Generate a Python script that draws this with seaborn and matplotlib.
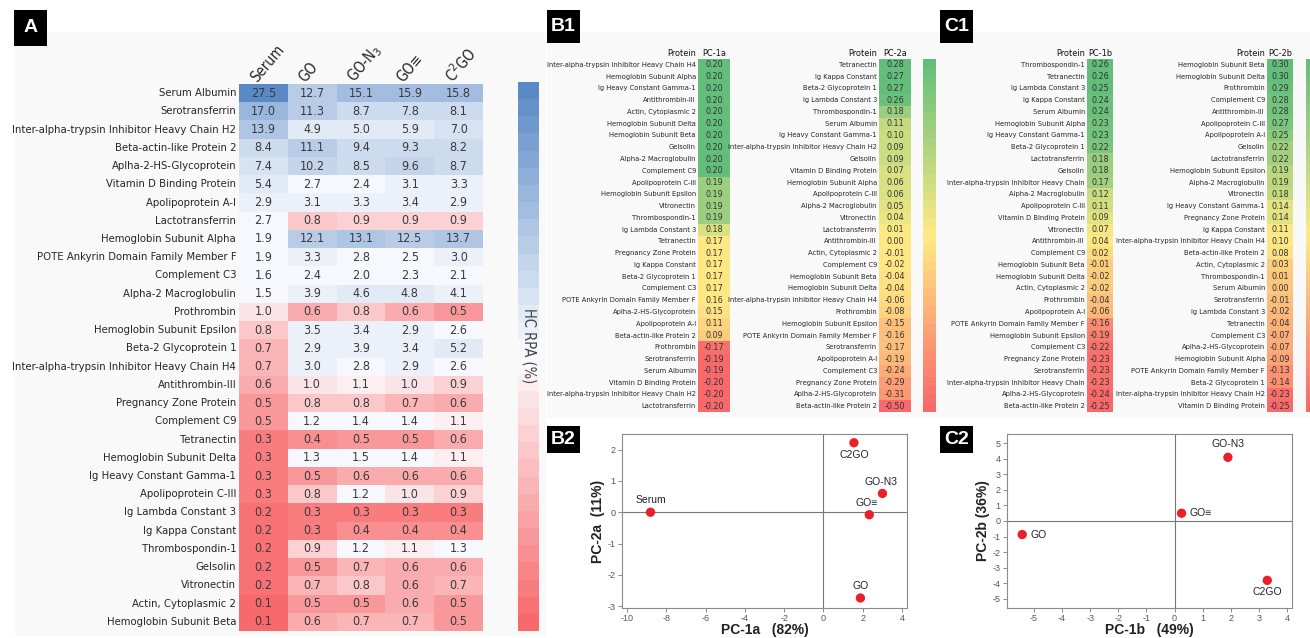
import os
import numpy as np
import pandas as pd
import seaborn as sns
import matplotlib.pyplot as plt
from matplotlib import font_manager
from matplotlib.font_manager import FontProperties
from matplotlib.colors import LinearSegmentedColormap, TwoSlopeNorm
from matplotlib.patches import Rectangle
from matplotlib.transforms import ScaledTranslation

# ---- panel A: HC RPA (%) per protein ----
proteins_a = ["Serum Albumin", "Serotransferrin", "Inter-alpha-trypsin Inhibitor Heavy Chain H2",
              "Beta-actin-like Protein 2", "Aplha-2-HS-Glycoprotein", "Vitamin D Binding Protein",
              "Apolipoprotein A-I", "Lactotransferrin", "Hemoglobin Subunit Alpha",
              "POTE Ankyrin Domain Family Member F", "Complement C3", "Alpha-2 Macroglobulin",
              "Prothrombin", "Hemoglobin Subunit Epsilon", "Beta-2 Glycoprotein 1",
              "Inter-alpha-trypsin Inhibitor Heavy Chain H4", "Antithrombin-III", "Pregnancy Zone Protein",
              "Complement C9", "Tetranectin", "Hemoglobin Subunit Delta", "Ig Heavy Constant Gamma-1",
              "Apolipoprotein C-III", "Ig Lambda Constant 3", "Ig Kappa Constant", "Thrombospondin-1",
              "Gelsolin", "Vitronectin", "Actin, Cytoplasmic 2", "Hemoglobin Subunit Beta"]
serum = [27.5, 17.0, 13.9, 8.4, 7.4, 5.4, 2.9, 2.7, 1.9, 1.9, 1.6, 1.5, 1.0, 0.8, 0.7,
         0.7, 0.6, 0.5, 0.5, 0.3, 0.3, 0.3, 0.3, 0.2, 0.2, 0.2, 0.2, 0.2, 0.1, 0.1]
go = [12.7, 11.3, 4.9, 11.1, 10.2, 2.7, 3.1, 0.8, 12.1, 3.3, 2.4, 3.9, 0.6, 3.5, 2.9,
      3.0, 1.0, 0.8, 1.2, 0.4, 1.3, 0.5, 0.8, 0.3, 0.3, 0.9, 0.5, 0.7, 0.5, 0.6]
go_n3 = [15.1, 8.7, 5.0, 9.4, 8.5, 2.4, 3.3, 0.9, 13.1, 2.8, 2.0, 4.6, 0.8, 3.4, 3.9,
         2.8, 1.1, 0.8, 1.4, 0.5, 1.5, 0.6, 1.2, 0.3, 0.4, 1.2, 0.7, 0.8, 0.5, 0.7]
go_yne = [15.9, 7.8, 5.9, 9.3, 9.6, 3.1, 3.4, 0.9, 12.5, 2.5, 2.3, 4.8, 0.6, 2.9, 3.4,
          2.9, 1.0, 0.7, 1.4, 0.5, 1.4, 0.6, 1.0, 0.3, 0.4, 1.1, 0.6, 0.6, 0.6, 0.7]
c2go = [15.8, 8.1, 7.0, 8.2, 8.7, 3.3, 2.9, 0.9, 13.7, 3.0, 2.1, 4.1, 0.5, 2.6, 5.2,
        2.6, 0.9, 0.6, 1.1, 0.6, 1.1, 0.6, 0.9, 0.3, 0.4, 1.3, 0.6, 0.7, 0.5, 0.5]
columns_a = ["Serum", "GO", "GO-N$_3$", "GO\u2261", "C$^2$GO"]

# ---- B1 / C1: loadings ----
pc1a_names = ["Inter-alpha-trypsin Inhibitor Heavy Chain H4", "Hemoglobin Subunit Alpha",
              "Ig Heavy Constant Gamma-1", "Antithrombin-III", "Actin, Cytoplasmic 2",
              "Hemoglobin Subunit Delta", "Hemoglobin Subunit Beta", "Gelsolin", "Alpha-2 Macroglobulin",
              "Complement C9", "Apolipoprotein C-III", "Hemoglobin Subunit Epsilon", "Vitronectin",
              "Thrombospondin-1", "Ig Lambda Constant 3", "Tetranectin", "Pregnancy Zone Protein",
              "Ig Kappa Constant", "Beta-2 Glycoprotein 1", "Complement C3",
              "POTE Ankyrin Domain Family Member F", "Aplha-2-HS-Glycoprotein", "Apolipoprotein A-I",
              "Beta-actin-like Protein 2", "Prothrombin", "Serotransferrin", "Serum Albumin",
              "Vitamin D Binding Protein", "Inter-alpha-trypsin Inhibitor Heavy Chain H2", "Lactotransferrin"]
pc1a = [0.20, 0.20, 0.20, 0.20, 0.20, 0.20, 0.20, 0.20, 0.20, 0.20, 0.19, 0.19, 0.19, 0.19, 0.18,
        0.17, 0.17, 0.17, 0.17, 0.17, 0.16, 0.15, 0.11, 0.09, -0.17, -0.19, -0.19, -0.20, -0.20, -0.20]

pc2a_names = ["Tetranectin", "Ig Kappa Constant", "Beta-2 Glycoprotein 1", "Ig Lambda Constant 3",
              "Thrombospondin-1", "Serum Albumin", "Ig Heavy Constant Gamma-1",
              "Inter-alpha-trypsin Inhibitor Heavy Chain H2", "Gelsolin", "Vitamin D Binding Protein",
              "Hemoglobin Subunit Alpha", "Apolipoprotein C-III", "Alpha-2 Macroglobulin", "Vitronectin",
              "Lactotransferrin", "Antithrombin-III", "Actin, Cytoplasmic 2", "Complement C9",
              "Hemoglobin Subunit Beta", "Hemoglobin Subunit Delta",
              "Inter-alpha-trypsin Inhibitor Heavy Chain H4", "Prothrombin", "Hemoglobin Subunit Epsilon",
              "POTE Ankyrin Domain Family Member F", "Serotransferrin", "Apolipoprotein A-I",
              "Complement C3", "Pregnancy Zone Protein", "Aplha-2-HS-Glycoprotein", "Beta-actin-like Protein 2"]
pc2a = [0.28, 0.27, 0.27, 0.26, 0.18, 0.11, 0.10, 0.09, 0.09, 0.07, 0.06, 0.06, 0.05, 0.04, 0.01,
        0.00, -0.01, -0.02, -0.04, -0.04, -0.06, -0.08, -0.15, -0.16, -0.17, -0.19, -0.24, -0.29, -0.31, -0.50]

pc1b_names = ["Thrombospondin-1", "Tetranectin", "Ig Lambda Constant 3", "Ig Kappa Constant",
              "Serum Albumin", "Hemoglobin Subunit Alpha", "Ig Heavy Constant Gamma-1",
              "Beta-2 Glycoprotein 1", "Lactotransferrin", "Gelsolin",
              "Inter-alpha-trypsin Inhibitor Heavy Chain", "Alpha-2 Macroglobulin", "Apolipoprotein C-III",
              "Vitamin D Binding Protein", "Vitronectin", "Antithrombin-III", "Complement C9",
              "Hemoglobin Subunit Beta", "Hemoglobin Subunit Delta", "Actin, Cytoplasmic 2", "Prothrombin",
              "Apolipoprotein A-I", "POTE Ankyrin Domain Family Member F", "Hemoglobin Subunit Epsilon",
              "Complement C3", "Pregnancy Zone Protein", "Serotransferrin",
              "Inter-alpha-trypsin Inhibitor Heavy Chain", "Aplha-2-HS-Glycoprotein", "Beta-actin-like Protein 2"]
pc1b = [0.26, 0.26, 0.25, 0.24, 0.24, 0.23, 0.23, 0.22, 0.18, 0.18, 0.17, 0.12, 0.11, 0.09, 0.07,
        0.04, 0.02, -0.01, -0.02, -0.02, -0.04, -0.06, -0.16, -0.19, -0.22, -0.23, -0.23, -0.23, -0.24, -0.25]

pc2b_names = ["Hemoglobin Subunit Beta", "Hemoglobin Subunit Delta", "Prothrombin", "Complement C9",
              "Antithrombin-III", "Apolipoprotein C-III", "Apolipoprotein A-I", "Gelsolin",
              "Lactotransferrin", "Hemoglobin Subunit Epsilon", "Alpha-2 Macroglobulin", "Vitronectin",
              "Ig Heavy Constant Gamma-1", "Pregnancy Zone Protein", "Ig Kappa Constant",
              "Inter-alpha-trypsin Inhibitor Heavy Chain H4", "Beta-actin-like Protein 2",
              "Actin, Cytoplasmic 2", "Thrombospondin-1", "Serum Albumin", "Serotransferrin",
              "Ig Lambda Constant 3", "Tetranectin", "Complement C3", "Aplha-2-HS-Glycoprotein",
              "Hemoglobin Subunit Alpha", "POTE Ankyrin Domain Family Member F", "Beta-2 Glycoprotein 1",
              "Inter-alpha-trypsin Inhibitor Heavy Chain H2", "Vitamin D Binding Protein"]
pc2b = [0.30, 0.30, 0.29, 0.28, 0.28, 0.27, 0.25, 0.22, 0.22, 0.19, 0.19, 0.18, 0.14, 0.14, 0.11,
        0.10, 0.08, 0.03, 0.01, 0.00, -0.01, -0.02, -0.04, -0.07, -0.07, -0.09, -0.13, -0.14, -0.23, -0.25]

# ---- B2 / C2: scores ----
b2_names = ["Serum", "C2GO", "GO-N3", "GO\u2261", "GO"]
b2_pc1 = [-8.8, 1.55, 3.0, 2.33, 1.88]
b2_pc2 = [0.0, 2.22, 0.6, -0.08, -2.74]

c2_names = ["GO", "GO\u2261", "GO-N3", "C2GO"]
c2_pc1 = [-5.42, 0.25, 1.9, 3.3]
c2_pc2 = [-0.87, 0.5, 4.1, -3.82]

W, H = 1310, 638


def box(x0, y0, x1, y1):
    # pixel box (top-left origin) -> figure fraction
    return [x0 / W, 1 - y1 / H, (x1 - x0) / W, (y1 - y0) / H]


sns.set_theme(style="white")
plt.rcParams["font.family"] = ["Liberation Sans", "DejaVu Sans"]
plt.rcParams["axes.unicode_minus"] = False
plain = ["Liberation Sans", "DejaVu Sans"]

# a narrow face for the protein tables, if one is installed
cond_file = None
for pref in ["liberationsansnarrow-regular", "dejavusanscondensed.ttf", "condensed-regular", "narrow"]:
    for f in font_manager.fontManager.ttflist:
        n = os.path.basename(f.fname).lower()
        if pref in n and not any(k in n for k in ("bold", "italic", "oblique")):
            cond_file = f.fname
            break
    if cond_file:
        break
fp = FontProperties(fname=cond_file) if cond_file else FontProperties(family="Liberation Sans")

fig = plt.figure(figsize=(13.1, 6.38), dpi=100)
renderer = fig.canvas.get_renderer()


def fit_size(text, target_px, max_size):
    t = fig.text(0, 0, text, fontproperties=fp, fontsize=10)
    w = t.get_window_extent(renderer=renderer).width
    t.remove()
    return min(max_size, 10 * target_px / w)


size_a = fit_size("Inter-alpha-trypsin Inhibitor Heavy Chain H2", 224, 10.5)
size_t = fit_size("Inter-alpha-trypsin Inhibitor Heavy Chain H4", 148, 6.5)

# faint panel backgrounds
for x0, y0, x1, y1 in [(15, 32, 546, 636), (547, 32, 940, 418), (940, 32, 1310, 418)]:
    fig.add_artist(Rectangle((x0 / W, 1 - y1 / H), (x1 - x0) / W, (y1 - y0) / H,
                             transform=fig.transFigure, fc="#f9f9f9", ec="none", zorder=-5))


def restyle(texts, size):
    for t in texts:
        t.set_fontproperties(fp)
        t.set_fontsize(size)


# ---------------- A ----------------
hc = pd.DataFrame(dict(zip(columns_a, [serum, go, go_n3, go_yne, c2go])), index=proteins_a)
allv = hc.values.ravel()
norm_a = TwoSlopeNorm(vmin=allv.min(), vcenter=np.percentile(allv, 50), vmax=allv.max())
bwr = LinearSegmentedColormap.from_list("bwr_xl", ["#F8696B", "#FCFCFF", "#5A8AC6"], N=32)

ax_a = fig.add_axes(box(239, 84, 483, 631))
cax_a = fig.add_axes(box(518, 82, 539, 631))
sns.heatmap(hc, ax=ax_a, cmap=bwr, norm=norm_a, annot=True, fmt=".1f",
            annot_kws={"color": "#3a3a3a"}, cbar_ax=cax_a,
            xticklabels=True, yticklabels=True)
ax_a.xaxis.tick_top()
ax_a.set_xticklabels(columns_a, rotation=50, ha="left", va="center", rotation_mode="anchor")
ax_a.tick_params(axis="both", length=0)
ax_a.tick_params(axis="y", pad=2, rotation=0)
ax_a.tick_params(axis="x", pad=3)
restyle(ax_a.get_yticklabels(), size_a)
restyle(ax_a.get_xticklabels(), 10.5)
restyle(ax_a.texts, 9)
shift = ScaledTranslation(-10 / 100, 0, fig.dpi_scale_trans)
for t in ax_a.get_xticklabels():
    t.set_transform(t.get_transform() + shift)
cb = ax_a.collections[0].colorbar
cb.outline.set_visible(False)
cb.set_ticks([])
lab = cax_a.text(0.5, 0.52, "HC RPA (%)", rotation=270, ha="center", va="center",
                 transform=cax_a.transAxes, color="#444444")
restyle([lab], 10.5)

# ---------------- B1 / C1 ----------------
gyr = LinearSegmentedColormap.from_list("gyr_xl", ["#F8696B", "#FFEB84", "#63BE7B"], N=40)


def loading_table(rect, names, values, title, cbar_rect=None):
    ax = fig.add_axes(box(*rect))
    col = pd.DataFrame({title: values}, index=names)
    v = np.array(values)
    norm = TwoSlopeNorm(vmin=v.min(), vcenter=np.percentile(v, 50), vmax=v.max())
    cax = fig.add_axes(box(*cbar_rect)) if cbar_rect else None
    sns.heatmap(col, ax=ax, cmap=gyr, norm=norm, annot=True, fmt=".2f",
                annot_kws={"color": "#333333"},
                cbar=cax is not None, cbar_ax=cax, xticklabels=False, yticklabels=True)
    ax.tick_params(axis="y", length=0, pad=1.5, rotation=0)
    restyle(ax.get_yticklabels(), size_t)
    restyle(ax.texts, 6.5)
    h1 = ax.text(-0.06, 1.004, "Protein", transform=ax.transAxes, ha="right", va="bottom", color="#111111")
    h2 = ax.text(0.5, 1.004, title, transform=ax.transAxes, ha="center", va="bottom", color="#111111")
    restyle([h1, h2], 6.6)
    if cax is not None:
        cbar = ax.collections[0].colorbar
        cbar.outline.set_visible(False)
        cbar.set_ticks([])


loading_table((698, 59, 730, 412), pc1a_names, pc1a, "PC-1a")
loading_table((879, 59, 911, 412), pc2a_names, pc2a, "PC-2a", (923, 59, 936, 412))
loading_table((1087, 59, 1113, 412), pc1b_names, pc1b, "PC-1b")
loading_table((1267, 59, 1293, 412), pc2b_names, pc2b, "PC-2b", (1306, 59, 1319, 412))


# ---------------- B2 / C2 ----------------
def score_plot(rect, xs, ys, names, offsets, xlim, ylim, xticks, yticks, xlabel, ylabel):
    ax = fig.add_axes(box(*rect))
    sns.scatterplot(x=xs, y=ys, ax=ax, color="#e8202a", s=45, edgecolor="none", zorder=3)
    ax.axhline(0, color="#777777", lw=0.8, zorder=1)
    ax.axvline(0, color="#777777", lw=0.8, zorder=1)
    for x, y, name, (dx, dy, ha, va) in zip(xs, ys, names, offsets):
        ax.annotate(name, (x, y), xytext=(dx, dy), textcoords="offset points", ha=ha, va=va,
                    fontsize=7.5, family=plain, color="#222222")
    ax.set_xlim(*xlim)
    ax.set_ylim(*ylim)
    ax.set_xticks(xticks)
    ax.set_yticks(yticks)
    for s in ax.spines.values():
        s.set_color("#8a8a8a")
        s.set_linewidth(0.8)
    ax.tick_params(axis="both", direction="out", length=3, width=0.7, color="#8a8a8a",
                   labelsize=6.5, labelcolor="#555555", pad=1.5)
    ax.tick_params(bottom=True, left=True)
    ax.set_xlabel(xlabel, fontsize=10, fontweight="bold", color="#222222", labelpad=0)
    ax.set_ylabel(ylabel, fontsize=10, fontweight="bold", color="#222222", labelpad=2)
    return ax


score_plot((622, 434, 907, 608), b2_pc1, b2_pc2, b2_names,
           [(0, 5, "center", "bottom"), (0, -5, "center", "top"), (-1, 5, "center", "bottom"),
            (-2, 5, "center", "bottom"), (0, 5, "center", "bottom")],
           (-10.25, 4.25), (-3.06, 2.5), range(-10, 5, 2), range(-3, 3),
           "PC-1a   (82%)", "PC-2a  (11%)")

score_plot((1007, 434, 1292, 608), c2_pc1, c2_pc2, c2_names,
           [(6, 0, "left", "center"), (6, 0, "left", "center"), (0, 6, "center", "bottom"),
            (0, -5, "center", "top")],
           (-5.96, 4.18), (-5.6, 5.6), range(-5, 5), range(-5, 6),
           "PC-1b   (49%)", "PC-2b (36%)")

# ---------------- panel tags ----------------
for tag, (x0, y0, x1, y1) in {"A": (14, 10, 47, 46), "B1": (547, 10, 580, 43), "C1": (940, 10, 973, 43),
                              "B2": (547, 426, 580, 453), "C2": (940, 426, 973, 453)}.items():
    fig.add_artist(Rectangle((x0 / W, 1 - y1 / H), (x1 - x0) / W, (y1 - y0) / H,
                             transform=fig.transFigure, fc="black", ec="none"))
    fig.text((x0 + x1) / 2 / W, 1 - (y0 + y1) / 2 / H, tag, color="white", fontsize=14,
             fontweight="bold", ha="center", va="center")

fig.savefig("out.png", dpi=100)
